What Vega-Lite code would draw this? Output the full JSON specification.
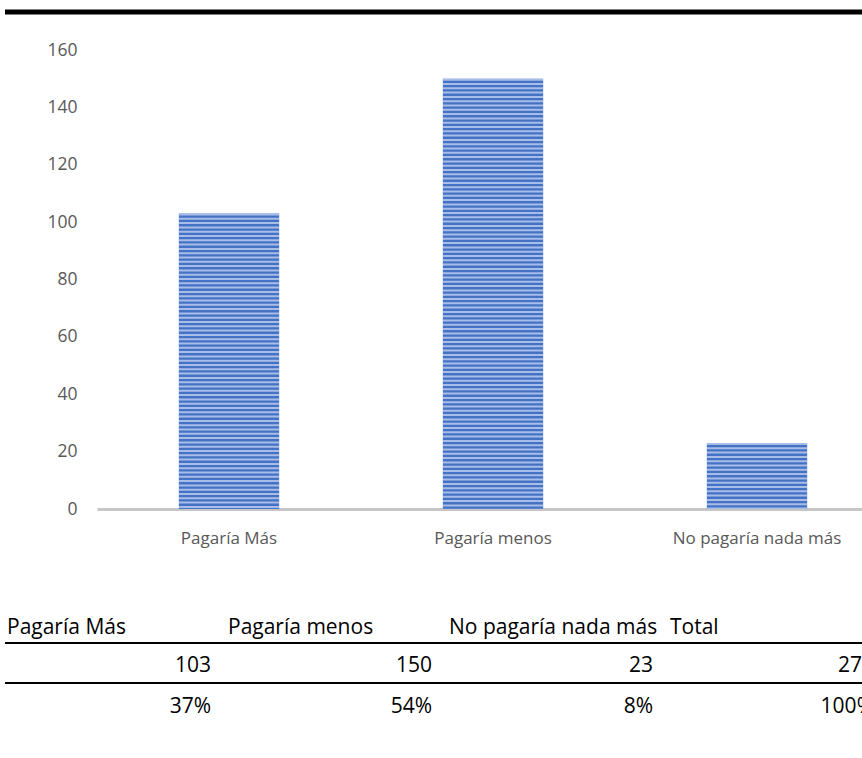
{
  "$schema": "https://vega.github.io/schema/vega-lite/v6.json",
  "width": 765,
  "height": 459,
  "autosize": {"type": "none"},
  "padding": {"left": 97, "top": 50, "right": 0, "bottom": 249},
  "background": "white",
  "config": {"view": {"stroke": null}, "font": "Open Sans"},
  "datasets": {
    "tabla": [
      {"categoria": "Pagaría Más", "cantidad": 103, "porcentaje": "37%"},
      {"categoria": "Pagaría menos", "cantidad": 150, "porcentaje": "54%"},
      {"categoria": "No pagaría nada más", "cantidad": 23, "porcentaje": "8%"},
      {"categoria": "Total", "cantidad": 276, "porcentaje": "100%"}
    ]
  },
  "data": {"name": "tabla"},
  "layer": [
    {
      "transform": [{"filter": "datum.categoria !== 'Total'"}],
      "layer": [
        {
          "mark": {"type": "bar", "color": "#4472c4"},
          "encoding": {
            "x": {
              "field": "categoria", "type": "nominal", "sort": null,
              "scale": {"range": [0, 792], "paddingInner": 0.62, "paddingOuter": 0.31},
              "axis": {"title": null, "ticks": false, "domainColor": "#c6c6c6", "domainWidth": 3, "labelPadding": 21, "labelFontSize": 17, "labelColor": "#595959", "labelAngle": 0, "labelFont": "Open Sans", "labelLimit": 260}
            },
            "y": {
              "field": "cantidad", "type": "quantitative",
              "scale": {"domain": [0, 160]},
              "axis": {"title": null, "values": [0, 20, 40, 60, 80, 100, 120, 140, 160], "domain": false, "ticks": false, "grid": false, "labelPadding": 20, "labelFontSize": 17.5, "labelColor": "#595959", "labelFont": "Open Sans"}
            }
          }
        },
        {
          "mark": {"type": "rule", "strokeWidth": 100, "strokeDash": [2, 2.3], "color": "#b4c7ec", "strokeCap": "butt", "opacity": 0.9},
          "encoding": {
            "x": {"field": "categoria", "type": "nominal", "sort": null},
            "y": {"field": "cantidad", "type": "quantitative"},
            "y2": {"datum": 0}
          }
        }
      ]
    },
    {
      "layer": [
        {
          "mark": {"type": "text", "align": "left", "baseline": "middle", "fontSize": 21, "dy": 5, "dx": 2, "color": "black", "font": "Open Sans"},
          "encoding": {
            "x": {"field": "categoria", "type": "nominal", "sort": null, "bandPosition": 0,
                  "scale": {"range": [-92, 792], "paddingInner": 0, "paddingOuter": 0}, "axis": null},
            "y": {"datum": "header", "type": "nominal", "bandPosition": 0.5,
                  "scale": {"type": "band", "domain": ["header", "count", "pct"], "range": [553, 673], "paddingInner": 0, "paddingOuter": 0}, "axis": null},
            "text": {"field": "categoria"}
          }
        },
        {
          "mark": {"type": "text", "align": "right", "baseline": "middle", "fontSize": 21, "dy": 3, "dx": -15, "color": "black", "font": "Open Sans"},
          "encoding": {
            "x": {"field": "categoria", "type": "nominal", "sort": null, "bandPosition": 1},
            "y": {"datum": "count", "type": "nominal", "bandPosition": 0.5},
            "text": {"field": "cantidad"}
          }
        },
        {
          "mark": {"type": "text", "align": "right", "baseline": "middle", "fontSize": 21, "dy": 4, "dx": -15, "color": "black", "font": "Open Sans"},
          "encoding": {
            "x": {"field": "categoria", "type": "nominal", "sort": null, "bandPosition": 1},
            "y": {"datum": "pct", "type": "nominal", "bandPosition": 0.5},
            "text": {"field": "porcentaje"}
          }
        },
        {
          "data": {"values": [{"fila": "header"}, {"fila": "count"}]},
          "mark": {"type": "rule", "strokeWidth": 2, "color": "black"},
          "encoding": {
            "x": {"datum": "Pagaría Más", "type": "nominal", "bandPosition": 0},
            "x2": {"datum": "Total", "bandPosition": 1},
            "y": {"field": "fila", "type": "nominal", "bandPosition": 1}
          }
        }
      ]
    },
    {
      "data": {"values": [{"borde": "superior"}]},
      "mark": {"type": "rule", "strokeWidth": 5, "color": "black"},
      "encoding": {
        "x": {"datum": 0, "type": "quantitative", "scale": {"domain": [0, 1], "range": [-92, 792]}, "axis": null},
        "x2": {"datum": 1},
        "y": {"datum": 0, "type": "quantitative", "scale": {"domain": [0, 1], "range": [-38, -38]}, "axis": null}
      }
    }
  ],
  "resolve": {"scale": {"x": "independent", "y": "independent"}, "axis": {"x": "independent", "y": "independent"}}
}
